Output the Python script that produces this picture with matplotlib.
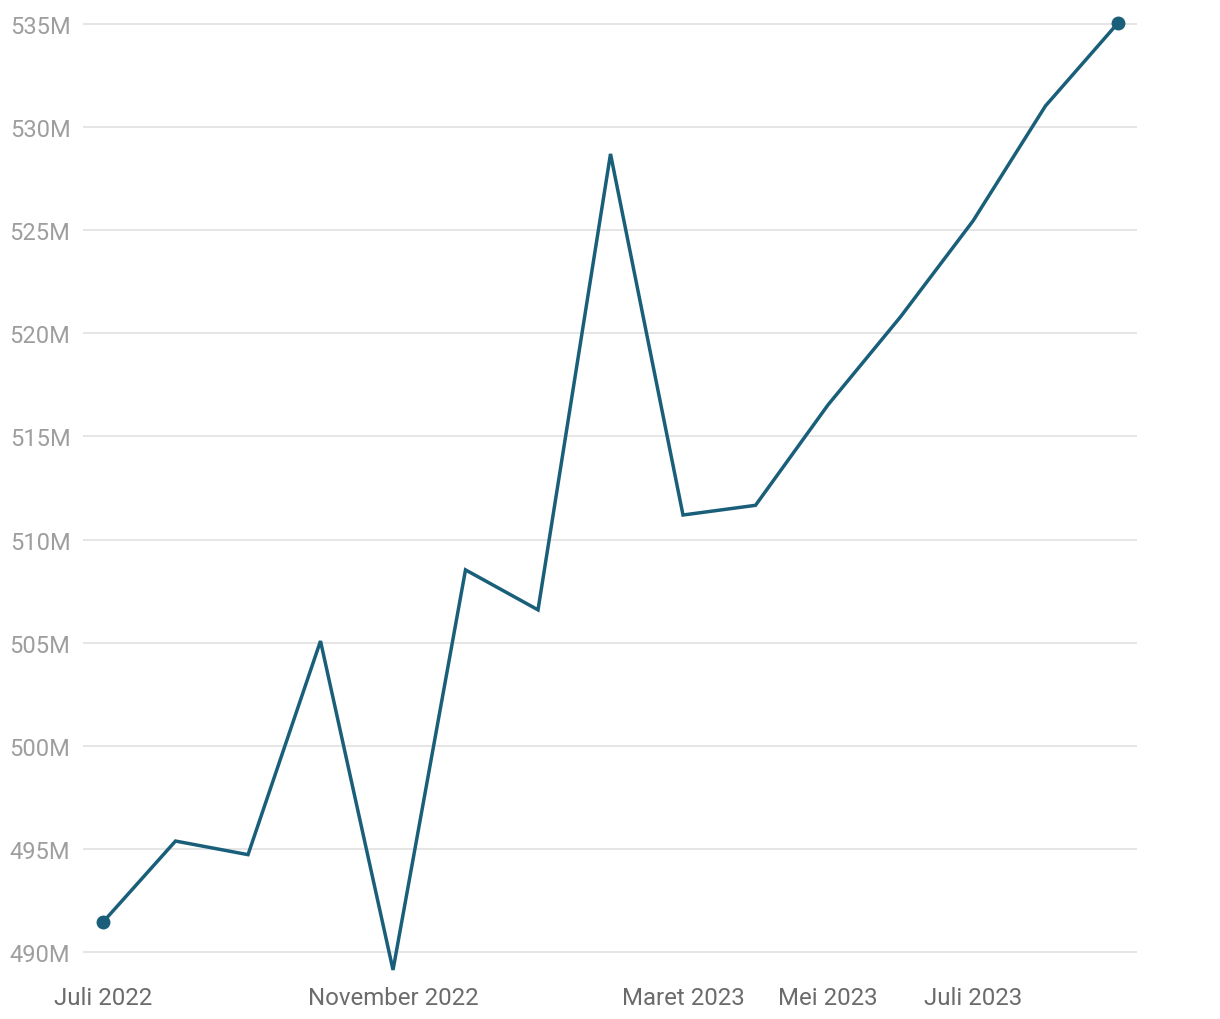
import matplotlib
matplotlib.use("Agg")
import matplotlib.pyplot as plt

plt.rcParams['font.family'] = ['Roboto', 'DejaVu Sans']

# monthly values, Juli 2022 .. September 2023 (millions)
months = ["Jul 2022", "Agu 2022", "Sep 2022", "Okt 2022", "Nov 2022", "Des 2022",
          "Jan 2023", "Feb 2023", "Mar 2023", "Apr 2023", "Mei 2023", "Jun 2023",
          "Jul 2023", "Agu 2023", "Sep 2023"]
values = [491.45, 495.38, 494.72, 505.08, 489.13, 508.53, 506.59, 528.70,
          511.19, 511.66, 516.53, 520.80, 525.45, 531.03, 535.05]

tick_idx = [0, 4, 8, 10, 12]
tick_labels = ["Juli 2022", "November 2022", "Maret 2023", "Mei 2023", "Juli 2023"]
y_ticks = [490, 495, 500, 505, 510, 515, 520, 525, 530, 535]

LINE = '#1a5f7a'

fig = plt.figure(figsize=(12.2, 10.2), dpi=100)
ax = fig.add_axes([83 / 1220, 43 / 1020, (1137 - 83) / 1220, 960 / 1020])

x = list(range(len(values)))
ax.plot(x, values, color=LINE, lw=2.5, solid_joinstyle='miter', zorder=3)
ax.plot([x[0], x[-1]], [values[0], values[-1]], 'o', color=LINE, ms=9, zorder=4)

ax.set_xlim(-0.276, 14.262)
ax.set_ylim(488.836, 535.388)

ax.set_yticks(y_ticks)
ax.set_yticklabels([f"{v}M" for v in y_ticks])
ax.set_xticks(tick_idx)
ax.set_xticklabels(tick_labels)

ax.tick_params(axis='y', length=0, pad=9, labelsize=17, labelcolor='#9e9e9e')
ax.tick_params(axis='x', length=0, pad=7, labelsize=17.3, labelcolor='#6b6b6b')

ax.grid(axis='y', color='#e3e3e3', lw=1.3)
ax.set_axisbelow(True)
for s in ax.spines.values():
    s.set_visible(False)

fig.savefig("out.png", dpi=100)
